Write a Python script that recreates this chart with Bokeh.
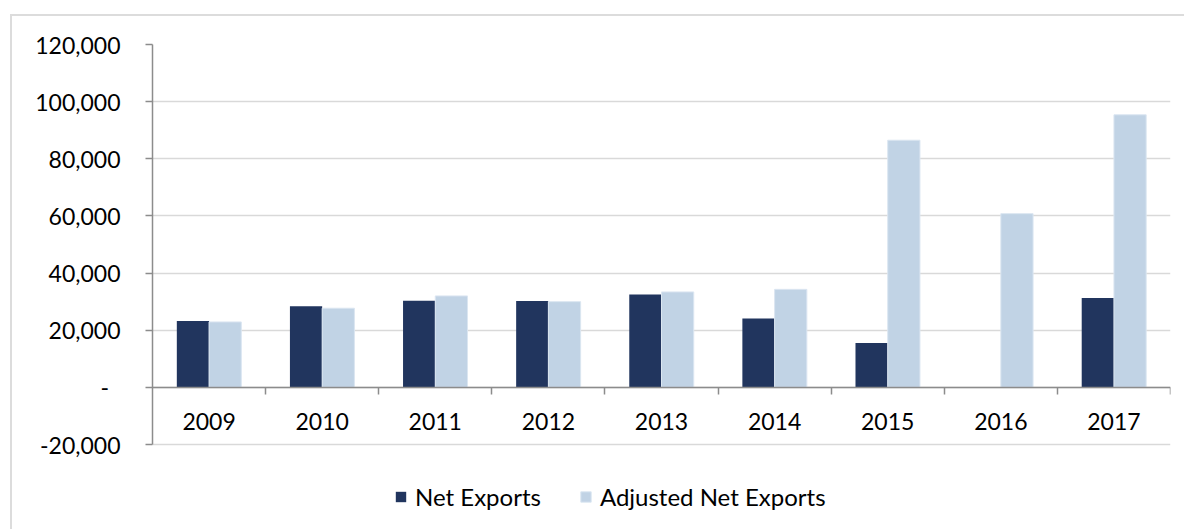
from bokeh.plotting import figure
from bokeh.models import (Range1d, LinearAxis, FixedTicker, NumeralTickFormatter,
                          ColumnDataSource, Legend, LegendItem, Grid)
from bokeh.transform import dodge
from bokeh.embed import file_html
from bokeh.resources import INLINE

# ---- data ----
years = ["2009", "2010", "2011", "2012", "2013", "2014", "2015", "2016", "2017"]
net_exports = [23200, 28400, 30300, 30200, 32500, 24100, 15500, 0, 31300]
adjusted_net_exports = [22900, 27700, 32000, 30000, 33400, 34300, 86500, 60800, 95400]
y_ticks = [-20000, 0, 20000, 40000, 60000, 80000, 100000, 120000]
series_names = ["Net Exports", "Adjusted Net Exports"]

FONT = "Lato"
DARK = "#21355e"
LIGHT = "#c1d3e5"
AXIS = "#8c8c8c"
GRID = "#d9d9d9"

# extra room under the value axis for the legend (inside the frame)
y_floor = -48000

centers = [i + 0.5 for i in range(len(years))]
boundaries = [i + 1 for i in range(len(years))]
src = ColumnDataSource(dict(x=centers, net=net_exports, adj=adjusted_net_exports))

p = figure(width=1174, height=515,
           x_range=Range1d(0, len(years)), y_range=Range1d(y_floor, y_ticks[-1]),
           output_backend="svg", toolbar_location=None,
           x_axis_type=None, y_axis_type=None,
           min_border_left=140, min_border_right=16, min_border_top=28, min_border_bottom=7,
           margin=(14, 0, 0, 10))
p.outline_line_color = None
p.background_fill_color = "white"
p.border_fill_color = "white"
p.styles = {"border-left": "2px solid #dcdcdc", "border-top": "2px solid #dcdcdc"}

# y axis
yaxis = LinearAxis(ticker=FixedTicker(ticks=y_ticks), formatter=NumeralTickFormatter(format="0,0"),
                   bounds=(y_ticks[0], y_ticks[-1]))
yaxis.major_label_overrides = {0: "-\u2002"}
yaxis.axis_line_color = AXIS
yaxis.axis_line_width = 1.5
yaxis.major_tick_line_color = AXIS
yaxis.major_tick_line_width = 1.5
yaxis.major_tick_out = 7
yaxis.major_tick_in = 0
yaxis.minor_tick_line_color = None
yaxis.major_label_standoff = 25
yaxis.major_label_text_font = FONT
yaxis.major_label_text_font_size = "23px"
yaxis.major_label_text_color = "black"
p.add_layout(yaxis, "left")

grid = Grid(dimension=1, ticker=yaxis.ticker, grid_line_color=GRID, grid_line_width=1.5)
p.add_layout(grid)

# x axis at zero: tick marks between categories
xticks_axis = LinearAxis(ticker=FixedTicker(ticks=boundaries), fixed_location=0)
xticks_axis.major_label_overrides = {b: "" for b in boundaries}
xticks_axis.axis_line_color = AXIS
xticks_axis.axis_line_width = 1.5
xticks_axis.major_tick_line_color = AXIS
xticks_axis.major_tick_line_width = 1.5
xticks_axis.major_tick_out = 7
xticks_axis.major_tick_in = 0
xticks_axis.minor_tick_line_color = None
p.add_layout(xticks_axis, "below")

# x axis labels, centred in categories
xlabel_axis = LinearAxis(ticker=FixedTicker(ticks=centers), fixed_location=0)
xlabel_axis.major_label_overrides = {c: y for c, y in zip(centers, years)}
xlabel_axis.axis_line_color = None
xlabel_axis.major_tick_line_color = None
xlabel_axis.minor_tick_line_color = None
xlabel_axis.major_label_standoff = 20
xlabel_axis.major_label_text_font = FONT
xlabel_axis.major_label_text_font_size = "23px"
xlabel_axis.major_label_text_color = "black"
p.add_layout(xlabel_axis, "below")

bw = 0.285
r1 = p.vbar(x=dodge("x", -bw / 2), top="net", width=bw, source=src,
            fill_color=DARK, line_color=None)
r2 = p.vbar(x=dodge("x", bw / 2), top="adj", width=bw, source=src,
            fill_color=LIGHT, line_color="#dbe6f1", line_width=1)

legend = Legend(items=[LegendItem(label=series_names[0], renderers=[r1]),
                       LegendItem(label=series_names[1], renderers=[r2])],
                orientation="horizontal", location=(242, 13),
                border_line_color=None, background_fill_alpha=0,
                label_text_font=FONT, label_text_font_size="24px", label_text_color="black",
                glyph_width=13, glyph_height=13, label_standoff=8, spacing=38,
                padding=0, margin=0)
p.add_layout(legend)

open("out.html", "w").write(file_html(p, INLINE))
